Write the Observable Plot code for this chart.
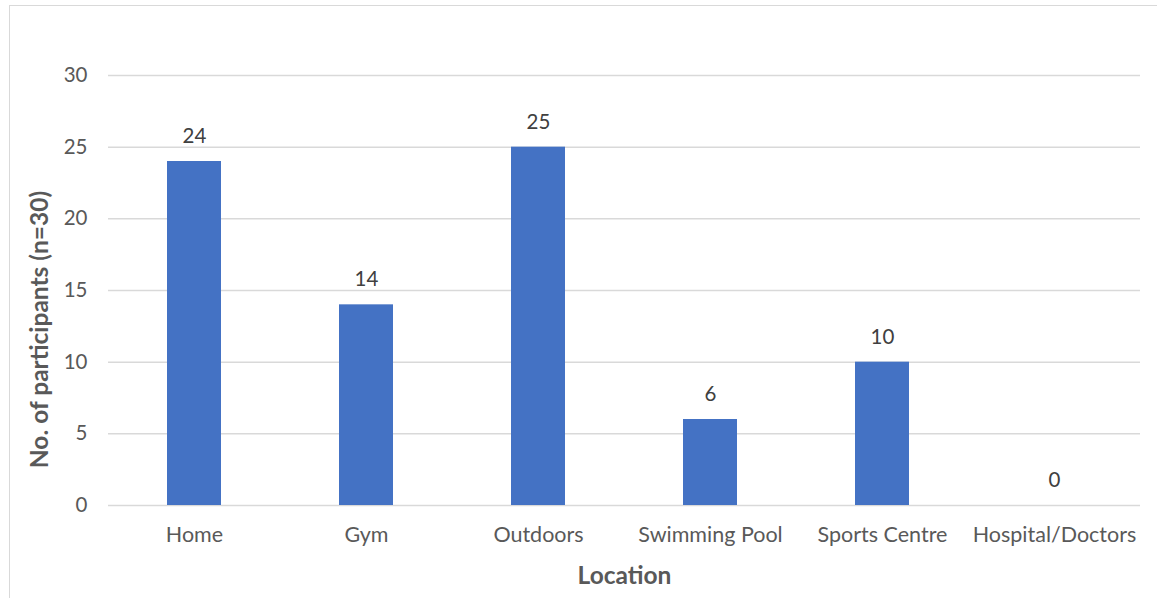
<!DOCTYPE html>
<html>
<head>
<meta charset="utf-8">
<script src="https://cdn.jsdelivr.net/npm/d3@7"></script>
<script src="https://cdn.jsdelivr.net/npm/@observablehq/plot@0.6"></script>
<style>
  html, body { margin: 0; padding: 0; background: #fff; }
  #wrap { position: relative; width: 1157px; height: 598px; overflow: hidden; }
  #frame { position: absolute; left: 9px; top: 5px; width: 1160px; height: 610px;
           border: 1.5px solid #d9d9d9; box-sizing: border-box; }
  #chart { position: absolute; left: 0; top: 0; }
</style>
</head>
<body>
<div id="wrap"><div id="frame"></div><div id="chart"></div></div>
<script>
// Where participants exercise
const locations = ["Home", "Gym", "Outdoors", "Swimming Pool", "Sports Centre", "Hospital/Doctors"];
const participants = [24, 14, 25, 6, 10, 0];
const yTicks = [0, 5, 10, 15, 20, 25, 30];
const xTitle = "Location";
const yTitle = "No. of participants (n=30)";

const rows = locations.map((loc, i) => ({location: loc, count: participants[i]}));
const font = "Lato, 'Open Sans', sans-serif";

const chart = Plot.plot({
  width: 1157,
  height: 598,
  marginLeft: 108,
  marginRight: 17,
  marginTop: 75,
  marginBottom: 93,
  style: {fontFamily: font, background: "transparent", overflow: "visible"},
  x: {domain: locations, paddingInner: 0.686, paddingOuter: 0.343, label: null},
  y: {domain: [0, 30], label: null},
  marks: [
    Plot.gridY(yTicks, {stroke: "#d9d9d9", strokeOpacity: 1, strokeWidth: 1.5}),
    Plot.barY(rows, {x: "location", y: "count", fill: "#4472c4"}),
    Plot.text(rows, {x: "location", y: "count", text: d => String(d.count),
      dy: -25, fill: "#404040", fontSize: 20.5}),
    Plot.axisY(yTicks, {tickSize: 0, tickPadding: 21, fill: "#595959", fontSize: 20.5, label: null}),
    Plot.axisX({tickSize: 0, tickPadding: 21, fill: "#595959", fontSize: 21.5, label: null}),
    Plot.text([xTitle], {frameAnchor: "bottom", dy: 78, fill: "#595959",
      fontSize: 24.5, fontWeight: "bold"}),
    Plot.text([yTitle], {frameAnchor: "left", textAnchor: "middle", dx: -68, dy: 39, rotate: -90,
      fill: "#595959", fontSize: 24.5, fontWeight: "bold"})
  ]
});
document.getElementById("chart").appendChild(chart);
</script>
</body>
</html>
